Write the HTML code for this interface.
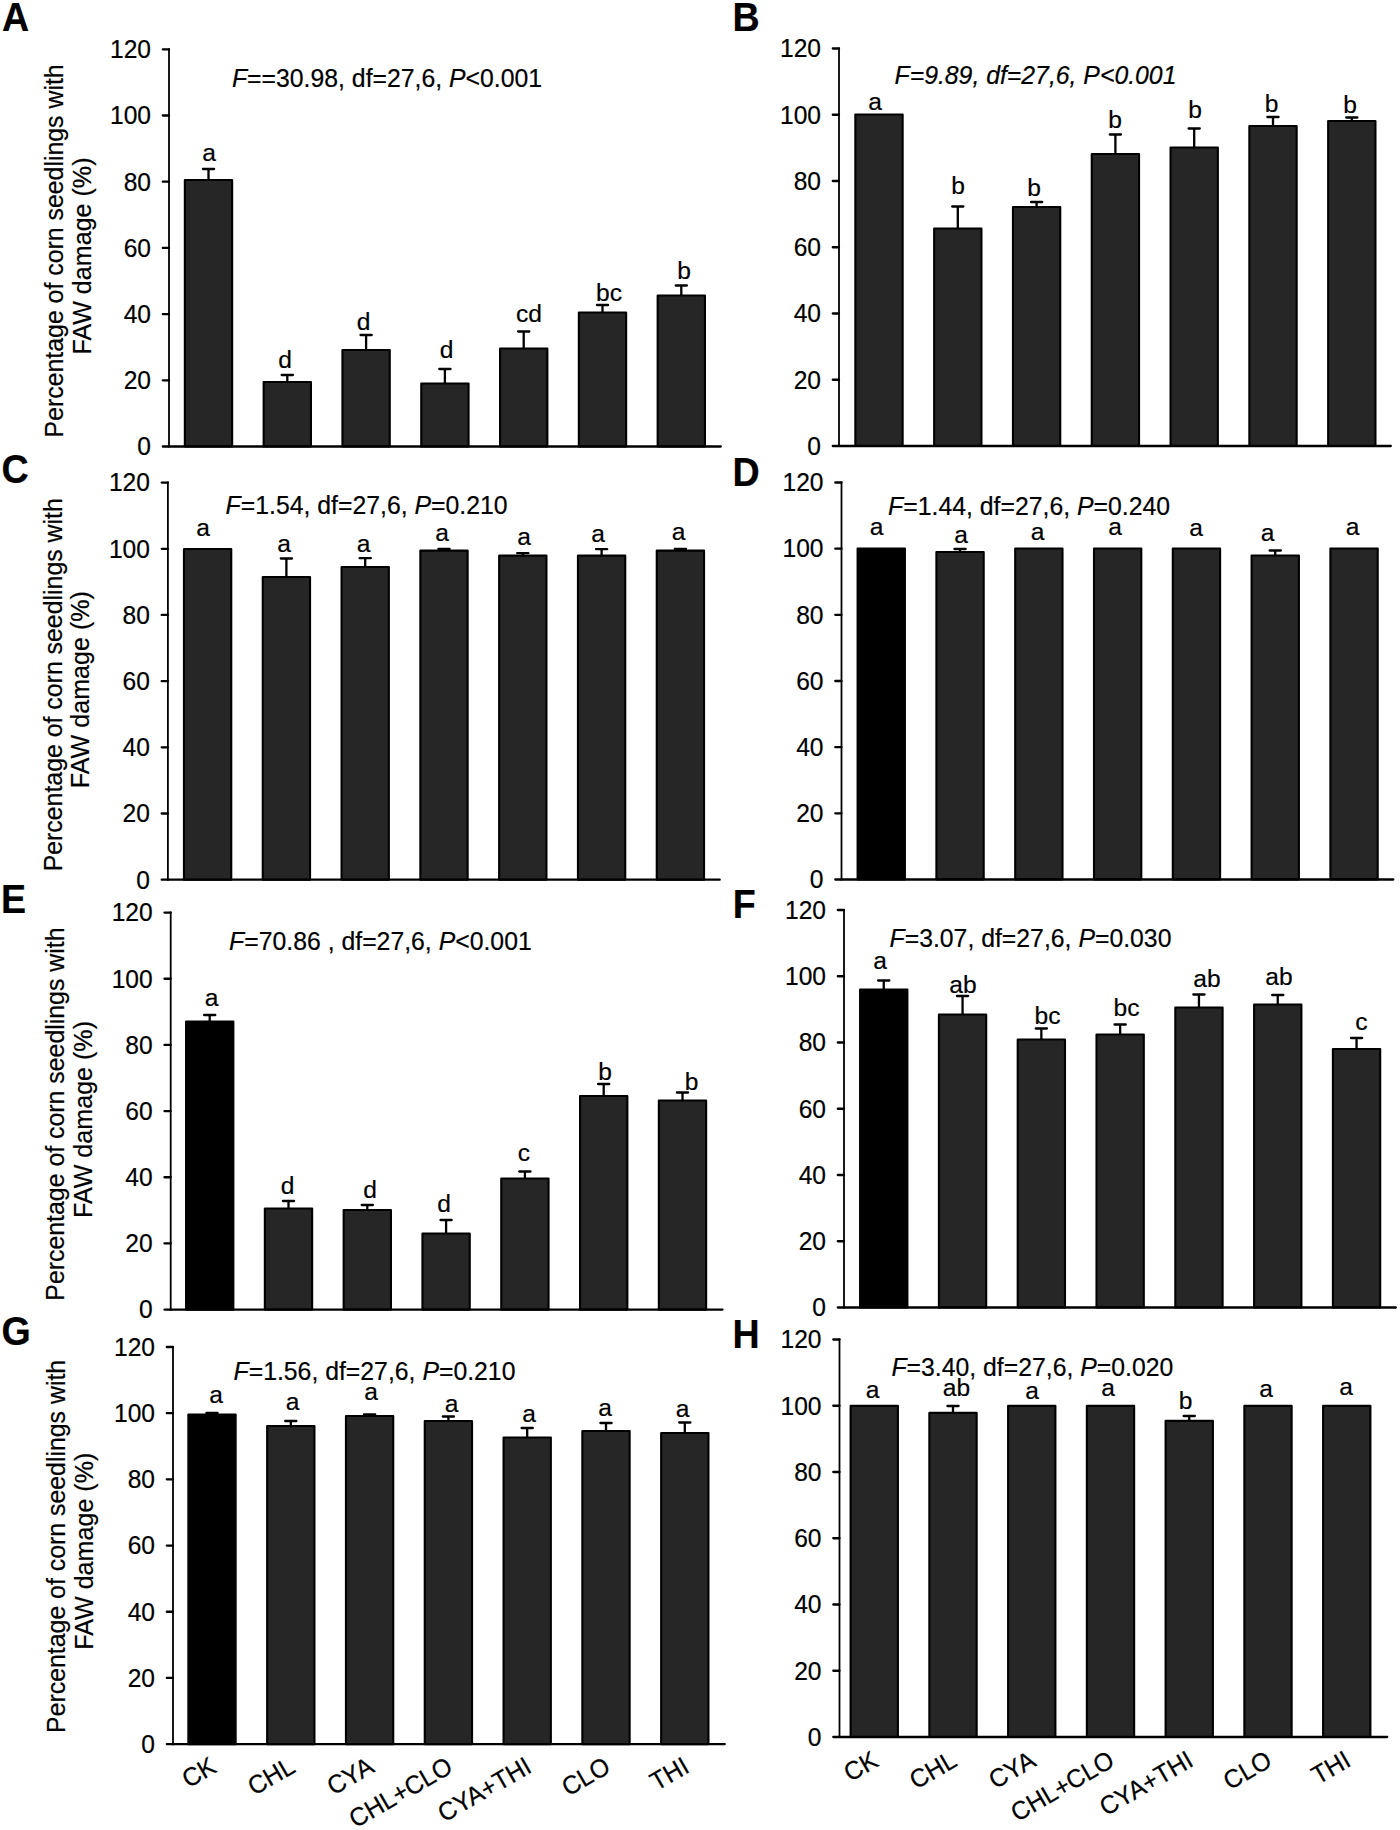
<!DOCTYPE html>
<html lang="en"><head><meta charset="utf-8"><title>Figure</title>
<style>html,body{margin:0;padding:0;background:#fff}svg{display:block}text{font-family:"Liberation Sans",Arial,Helvetica,sans-serif;fill:#000;stroke:#000;stroke-width:0.2px}.t{font-size:24.6px}.i{font-style:italic}.pl{font-size:37.6px;font-weight:bold;fill:#000;stroke:#000;stroke-width:0.2px}</style></head><body>
<svg width="1400" height="1830" viewBox="0 0 1400 1830">
<rect width="1400" height="1830" fill="#fff"/>
<g>
<text class="pl" transform="translate(2 30.7) scale(1 1.09)">A</text>
<path d="M208.5 180 V169 M202.9 169 H214.1" stroke="#000" stroke-width="2.3" stroke-linecap="round" fill="none"/>
<rect x="184.85" y="180" width="47.3" height="266.5" fill="#262626" stroke="#000" stroke-width="2.1" stroke-linejoin="round"/>
<path d="M287.3 382 V375 M281.7 375 H292.9" stroke="#000" stroke-width="2.3" stroke-linecap="round" fill="none"/>
<rect x="263.65" y="382" width="47.3" height="64.5" fill="#262626" stroke="#000" stroke-width="2.1" stroke-linejoin="round"/>
<path d="M366.1 350 V335 M360.5 335 H371.7" stroke="#000" stroke-width="2.3" stroke-linecap="round" fill="none"/>
<rect x="342.45" y="350" width="47.3" height="96.5" fill="#262626" stroke="#000" stroke-width="2.1" stroke-linejoin="round"/>
<path d="M444.9 383.5 V369 M439.3 369 H450.5" stroke="#000" stroke-width="2.3" stroke-linecap="round" fill="none"/>
<rect x="421.25" y="383.5" width="47.3" height="63" fill="#262626" stroke="#000" stroke-width="2.1" stroke-linejoin="round"/>
<path d="M523.7 348.5 V331.5 M518.1 331.5 H529.3" stroke="#000" stroke-width="2.3" stroke-linecap="round" fill="none"/>
<rect x="500.05" y="348.5" width="47.3" height="98" fill="#262626" stroke="#000" stroke-width="2.1" stroke-linejoin="round"/>
<path d="M602.5 312.5 V305 M596.9 305 H608.1" stroke="#000" stroke-width="2.3" stroke-linecap="round" fill="none"/>
<rect x="578.85" y="312.5" width="47.3" height="134" fill="#262626" stroke="#000" stroke-width="2.1" stroke-linejoin="round"/>
<path d="M681.3 295.5 V285.5 M675.7 285.5 H686.9" stroke="#000" stroke-width="2.3" stroke-linecap="round" fill="none"/>
<rect x="657.65" y="295.5" width="47.3" height="151" fill="#262626" stroke="#000" stroke-width="2.1" stroke-linejoin="round"/>
<path d="M169 48.2 V447.6" stroke="#000" stroke-width="1.8" fill="none"/>
<path d="M162.8 446.5 H720.8 M162.8 380.3 H169 M162.8 314.1 H169 M162.8 247.9 H169 M162.8 181.7 H169 M162.8 115.5 H169 M162.8 49.3 H169" stroke="#000" stroke-width="2.3" stroke-linecap="round" fill="none"/>
<text class="t" text-anchor="end" transform="translate(151 455.3) scale(1 1.045)">0</text>
<text class="t" text-anchor="end" transform="translate(151 389.1) scale(1 1.045)">20</text>
<text class="t" text-anchor="end" transform="translate(151 322.9) scale(1 1.045)">40</text>
<text class="t" text-anchor="end" transform="translate(151 256.7) scale(1 1.045)">60</text>
<text class="t" text-anchor="end" transform="translate(151 190.5) scale(1 1.045)">80</text>
<text class="t" text-anchor="end" transform="translate(151 124.3) scale(1 1.045)">100</text>
<text class="t" text-anchor="end" transform="translate(151 58.1) scale(1 1.045)">120</text>
<text class="t" text-anchor="middle" x="209" y="160.5">a</text>
<text class="t" text-anchor="middle" x="285" y="367.8">d</text>
<text class="t" text-anchor="middle" x="363.5" y="330">d</text>
<text class="t" text-anchor="middle" x="446.5" y="357.5">d</text>
<text class="t" text-anchor="middle" x="529" y="322">cd</text>
<text class="t" text-anchor="middle" x="609" y="301">bc</text>
<text class="t" text-anchor="middle" x="684" y="278.5">b</text>
<text class="t" style="font-size:24.8px" transform="translate(231.9 87) scale(1 1.045)"><tspan class="i">F</tspan>==30.98, df=27,6, <tspan class="i">P</tspan>&lt;0.001</text>
<text text-anchor="middle" font-size="24.86" transform="translate(63.05 250.9) rotate(-90)">Percentage of corn seedlings with</text>
<text text-anchor="middle" font-size="25.1" transform="translate(90.7 256) rotate(-90)">FAW damage (%)</text>
</g>
<g>
<text class="pl" transform="translate(732.6 30.7) scale(1 1.09)">B</text>
<rect x="855.35" y="114.5" width="47.3" height="331.5" fill="#262626" stroke="#000" stroke-width="2.1" stroke-linejoin="round"/>
<path d="M957.8 228.5 V206.5 M952.2 206.5 H963.4" stroke="#000" stroke-width="2.3" stroke-linecap="round" fill="none"/>
<rect x="934.15" y="228.5" width="47.3" height="217.5" fill="#262626" stroke="#000" stroke-width="2.1" stroke-linejoin="round"/>
<path d="M1036.6 207 V202 M1031 202 H1042.2" stroke="#000" stroke-width="2.3" stroke-linecap="round" fill="none"/>
<rect x="1012.95" y="207" width="47.3" height="239" fill="#262626" stroke="#000" stroke-width="2.1" stroke-linejoin="round"/>
<path d="M1115.4 154 V134.5 M1109.8 134.5 H1121" stroke="#000" stroke-width="2.3" stroke-linecap="round" fill="none"/>
<rect x="1091.75" y="154" width="47.3" height="292" fill="#262626" stroke="#000" stroke-width="2.1" stroke-linejoin="round"/>
<path d="M1194.2 147.5 V128.5 M1188.6 128.5 H1199.8" stroke="#000" stroke-width="2.3" stroke-linecap="round" fill="none"/>
<rect x="1170.55" y="147.5" width="47.3" height="298.5" fill="#262626" stroke="#000" stroke-width="2.1" stroke-linejoin="round"/>
<path d="M1273 126 V117 M1267.4 117 H1278.6" stroke="#000" stroke-width="2.3" stroke-linecap="round" fill="none"/>
<rect x="1249.35" y="126" width="47.3" height="320" fill="#262626" stroke="#000" stroke-width="2.1" stroke-linejoin="round"/>
<path d="M1351.8 121 V117.5 M1346.2 117.5 H1357.4" stroke="#000" stroke-width="2.3" stroke-linecap="round" fill="none"/>
<rect x="1328.15" y="121" width="47.3" height="325" fill="#262626" stroke="#000" stroke-width="2.1" stroke-linejoin="round"/>
<path d="M839 47.4 V447.1" stroke="#000" stroke-width="1.8" fill="none"/>
<path d="M832.8 446 H1390.8 M832.8 379.75 H839 M832.8 313.5 H839 M832.8 247.25 H839 M832.8 181 H839 M832.8 114.75 H839 M832.8 48.5 H839" stroke="#000" stroke-width="2.3" stroke-linecap="round" fill="none"/>
<text class="t" text-anchor="end" transform="translate(821 454.8) scale(1 1.045)">0</text>
<text class="t" text-anchor="end" transform="translate(821 388.55) scale(1 1.045)">20</text>
<text class="t" text-anchor="end" transform="translate(821 322.3) scale(1 1.045)">40</text>
<text class="t" text-anchor="end" transform="translate(821 256.05) scale(1 1.045)">60</text>
<text class="t" text-anchor="end" transform="translate(821 189.8) scale(1 1.045)">80</text>
<text class="t" text-anchor="end" transform="translate(821 123.55) scale(1 1.045)">100</text>
<text class="t" text-anchor="end" transform="translate(821 57.3) scale(1 1.045)">120</text>
<text class="t" text-anchor="middle" x="875" y="110">a</text>
<text class="t" text-anchor="middle" x="958" y="194">b</text>
<text class="t" text-anchor="middle" x="1034" y="195.5">b</text>
<text class="t" text-anchor="middle" x="1115" y="128">b</text>
<text class="t" text-anchor="middle" x="1195" y="118">b</text>
<text class="t" text-anchor="middle" x="1271.5" y="111.5">b</text>
<text class="t" text-anchor="middle" x="1350" y="112.5">b</text>
<text class="t" style="font-size:24.8px" transform="translate(894.5 83.5) scale(1 1.045)"><tspan class="i">F=9.89, df=27,6, P&lt;0.001</tspan></text>
</g>
<g>
<text class="pl" transform="translate(1.55 482.7) scale(1 1.09)">C</text>
<rect x="183.95" y="549" width="47.3" height="330.7" fill="#262626" stroke="#000" stroke-width="2.1" stroke-linejoin="round"/>
<path d="M286.4 577 V558.5 M280.8 558.5 H292" stroke="#000" stroke-width="2.3" stroke-linecap="round" fill="none"/>
<rect x="262.75" y="577" width="47.3" height="302.7" fill="#262626" stroke="#000" stroke-width="2.1" stroke-linejoin="round"/>
<path d="M365.2 567 V558.2 M359.6 558.2 H370.8" stroke="#000" stroke-width="2.3" stroke-linecap="round" fill="none"/>
<rect x="341.55" y="567" width="47.3" height="312.7" fill="#262626" stroke="#000" stroke-width="2.1" stroke-linejoin="round"/>
<path d="M444 550.6 V549 M438.4 549 H449.6" stroke="#000" stroke-width="2.3" stroke-linecap="round" fill="none"/>
<rect x="420.35" y="550.6" width="47.3" height="329.1" fill="#262626" stroke="#000" stroke-width="2.1" stroke-linejoin="round"/>
<path d="M522.8 555.6 V553.2 M517.2 553.2 H528.4" stroke="#000" stroke-width="2.3" stroke-linecap="round" fill="none"/>
<rect x="499.15" y="555.6" width="47.3" height="324.1" fill="#262626" stroke="#000" stroke-width="2.1" stroke-linejoin="round"/>
<path d="M601.6 555.6 V549.2 M596 549.2 H607.2" stroke="#000" stroke-width="2.3" stroke-linecap="round" fill="none"/>
<rect x="577.95" y="555.6" width="47.3" height="324.1" fill="#262626" stroke="#000" stroke-width="2.1" stroke-linejoin="round"/>
<path d="M680.4 550.6 V549 M674.8 549 H686" stroke="#000" stroke-width="2.3" stroke-linecap="round" fill="none"/>
<rect x="656.75" y="550.6" width="47.3" height="329.1" fill="#262626" stroke="#000" stroke-width="2.1" stroke-linejoin="round"/>
<path d="M167.9 481.5 V880.8" stroke="#000" stroke-width="1.8" fill="none"/>
<path d="M161.7 879.7 H719.7 M161.7 813.52 H167.9 M161.7 747.33 H167.9 M161.7 681.15 H167.9 M161.7 614.97 H167.9 M161.7 548.78 H167.9 M161.7 482.6 H167.9" stroke="#000" stroke-width="2.3" stroke-linecap="round" fill="none"/>
<text class="t" text-anchor="end" transform="translate(149.9 888.5) scale(1 1.045)">0</text>
<text class="t" text-anchor="end" transform="translate(149.9 822.32) scale(1 1.045)">20</text>
<text class="t" text-anchor="end" transform="translate(149.9 756.13) scale(1 1.045)">40</text>
<text class="t" text-anchor="end" transform="translate(149.9 689.95) scale(1 1.045)">60</text>
<text class="t" text-anchor="end" transform="translate(149.9 623.77) scale(1 1.045)">80</text>
<text class="t" text-anchor="end" transform="translate(149.9 557.58) scale(1 1.045)">100</text>
<text class="t" text-anchor="end" transform="translate(149.9 491.4) scale(1 1.045)">120</text>
<text class="t" text-anchor="middle" x="203" y="535.5">a</text>
<text class="t" text-anchor="middle" x="284" y="551.5">a</text>
<text class="t" text-anchor="middle" x="363.5" y="551.5">a</text>
<text class="t" text-anchor="middle" x="442" y="540.5">a</text>
<text class="t" text-anchor="middle" x="524" y="545">a</text>
<text class="t" text-anchor="middle" x="598" y="542">a</text>
<text class="t" text-anchor="middle" x="678.5" y="539.5">a</text>
<text class="t" style="font-size:24.8px" transform="translate(225.6 514) scale(1 1.045)"><tspan class="i">F</tspan>=1.54, df=27,6, <tspan class="i">P</tspan>=0.210</text>
<text text-anchor="middle" font-size="24.86" transform="translate(61.8 684.8) rotate(-90)">Percentage of corn seedlings with</text>
<text text-anchor="middle" font-size="25.1" transform="translate(89.45 689.6) rotate(-90)">FAW damage (%)</text>
</g>
<g>
<text class="pl" transform="translate(732.6 486) scale(1 1.09)">D</text>
<rect x="857.6" y="548.5" width="47.3" height="331" fill="#000000" stroke="#000" stroke-width="2.1" stroke-linejoin="round"/>
<path d="M960.05 552 V549 M954.45 549 H965.65" stroke="#000" stroke-width="2.3" stroke-linecap="round" fill="none"/>
<rect x="936.4" y="552" width="47.3" height="327.5" fill="#262626" stroke="#000" stroke-width="2.1" stroke-linejoin="round"/>
<rect x="1015.2" y="548.5" width="47.3" height="331" fill="#262626" stroke="#000" stroke-width="2.1" stroke-linejoin="round"/>
<rect x="1094" y="548.5" width="47.3" height="331" fill="#262626" stroke="#000" stroke-width="2.1" stroke-linejoin="round"/>
<rect x="1172.8" y="548.5" width="47.3" height="331" fill="#262626" stroke="#000" stroke-width="2.1" stroke-linejoin="round"/>
<path d="M1275.25 555.5 V550.5 M1269.65 550.5 H1280.85" stroke="#000" stroke-width="2.3" stroke-linecap="round" fill="none"/>
<rect x="1251.6" y="555.5" width="47.3" height="324" fill="#262626" stroke="#000" stroke-width="2.1" stroke-linejoin="round"/>
<rect x="1330.4" y="548.5" width="47.3" height="331" fill="#262626" stroke="#000" stroke-width="2.1" stroke-linejoin="round"/>
<path d="M841.5 481.4 V880.6" stroke="#000" stroke-width="1.8" fill="none"/>
<path d="M835.3 879.5 H1393.3 M835.3 813.33 H841.5 M835.3 747.17 H841.5 M835.3 681 H841.5 M835.3 614.83 H841.5 M835.3 548.67 H841.5 M835.3 482.5 H841.5" stroke="#000" stroke-width="2.3" stroke-linecap="round" fill="none"/>
<text class="t" text-anchor="end" transform="translate(823.5 888.3) scale(1 1.045)">0</text>
<text class="t" text-anchor="end" transform="translate(823.5 822.13) scale(1 1.045)">20</text>
<text class="t" text-anchor="end" transform="translate(823.5 755.97) scale(1 1.045)">40</text>
<text class="t" text-anchor="end" transform="translate(823.5 689.8) scale(1 1.045)">60</text>
<text class="t" text-anchor="end" transform="translate(823.5 623.63) scale(1 1.045)">80</text>
<text class="t" text-anchor="end" transform="translate(823.5 557.47) scale(1 1.045)">100</text>
<text class="t" text-anchor="end" transform="translate(823.5 491.3) scale(1 1.045)">120</text>
<text class="t" text-anchor="middle" x="876.5" y="535">a</text>
<text class="t" text-anchor="middle" x="961" y="542.5">a</text>
<text class="t" text-anchor="middle" x="1037.5" y="540">a</text>
<text class="t" text-anchor="middle" x="1115" y="535">a</text>
<text class="t" text-anchor="middle" x="1196" y="536">a</text>
<text class="t" text-anchor="middle" x="1267.5" y="541">a</text>
<text class="t" text-anchor="middle" x="1352.5" y="535">a</text>
<text class="t" style="font-size:24.8px" transform="translate(888.1 515) scale(1 1.045)"><tspan class="i">F</tspan>=1.44, df=27,6, <tspan class="i">P</tspan>=0.240</text>
</g>
<g>
<text class="pl" transform="translate(0.9 912.7) scale(1 1.09)">E</text>
<path d="M209.7 1021.5 V1015 M204.1 1015 H215.3" stroke="#000" stroke-width="2.3" stroke-linecap="round" fill="none"/>
<rect x="186.05" y="1021.5" width="47.3" height="288.1" fill="#000000" stroke="#000" stroke-width="2.1" stroke-linejoin="round"/>
<path d="M288.5 1208.5 V1201 M282.9 1201 H294.1" stroke="#000" stroke-width="2.3" stroke-linecap="round" fill="none"/>
<rect x="264.85" y="1208.5" width="47.3" height="101.1" fill="#262626" stroke="#000" stroke-width="2.1" stroke-linejoin="round"/>
<path d="M367.3 1210 V1205 M361.7 1205 H372.9" stroke="#000" stroke-width="2.3" stroke-linecap="round" fill="none"/>
<rect x="343.65" y="1210" width="47.3" height="99.6" fill="#262626" stroke="#000" stroke-width="2.1" stroke-linejoin="round"/>
<path d="M446.1 1233.5 V1220 M440.5 1220 H451.7" stroke="#000" stroke-width="2.3" stroke-linecap="round" fill="none"/>
<rect x="422.45" y="1233.5" width="47.3" height="76.1" fill="#262626" stroke="#000" stroke-width="2.1" stroke-linejoin="round"/>
<path d="M524.9 1178.5 V1171.5 M519.3 1171.5 H530.5" stroke="#000" stroke-width="2.3" stroke-linecap="round" fill="none"/>
<rect x="501.25" y="1178.5" width="47.3" height="131.1" fill="#262626" stroke="#000" stroke-width="2.1" stroke-linejoin="round"/>
<path d="M603.7 1096 V1084 M598.1 1084 H609.3" stroke="#000" stroke-width="2.3" stroke-linecap="round" fill="none"/>
<rect x="580.05" y="1096" width="47.3" height="213.6" fill="#262626" stroke="#000" stroke-width="2.1" stroke-linejoin="round"/>
<path d="M682.5 1100.5 V1092.5 M676.9 1092.5 H688.1" stroke="#000" stroke-width="2.3" stroke-linecap="round" fill="none"/>
<rect x="658.85" y="1100.5" width="47.3" height="209.1" fill="#262626" stroke="#000" stroke-width="2.1" stroke-linejoin="round"/>
<path d="M170.7 911.5 V1310.7" stroke="#000" stroke-width="1.8" fill="none"/>
<path d="M164.5 1309.6 H722.5 M164.5 1243.43 H170.7 M164.5 1177.27 H170.7 M164.5 1111.1 H170.7 M164.5 1044.93 H170.7 M164.5 978.77 H170.7 M164.5 912.6 H170.7" stroke="#000" stroke-width="2.3" stroke-linecap="round" fill="none"/>
<text class="t" text-anchor="end" transform="translate(152.7 1318.4) scale(1 1.045)">0</text>
<text class="t" text-anchor="end" transform="translate(152.7 1252.23) scale(1 1.045)">20</text>
<text class="t" text-anchor="end" transform="translate(152.7 1186.07) scale(1 1.045)">40</text>
<text class="t" text-anchor="end" transform="translate(152.7 1119.9) scale(1 1.045)">60</text>
<text class="t" text-anchor="end" transform="translate(152.7 1053.73) scale(1 1.045)">80</text>
<text class="t" text-anchor="end" transform="translate(152.7 987.57) scale(1 1.045)">100</text>
<text class="t" text-anchor="end" transform="translate(152.7 921.4) scale(1 1.045)">120</text>
<text class="t" text-anchor="middle" x="211.5" y="1006">a</text>
<text class="t" text-anchor="middle" x="287.5" y="1193.5">d</text>
<text class="t" text-anchor="middle" x="370" y="1198">d</text>
<text class="t" text-anchor="middle" x="444" y="1212">d</text>
<text class="t" text-anchor="middle" x="524" y="1161">c</text>
<text class="t" text-anchor="middle" x="605" y="1080">b</text>
<text class="t" text-anchor="middle" x="691.5" y="1090">b</text>
<text class="t" style="font-size:24.8px" transform="translate(229.1 949.5) scale(1 1.045)"><tspan class="i">F</tspan>=70.86 , df=27,6, <tspan class="i">P</tspan>&lt;0.001</text>
<text text-anchor="middle" font-size="24.86" transform="translate(64.2 1114.1) rotate(-90)">Percentage of corn seedlings with</text>
<text text-anchor="middle" font-size="25.1" transform="translate(91.85 1119.5) rotate(-90)">FAW damage (%)</text>
</g>
<g>
<text class="pl" transform="translate(732.8 918.3) scale(1 1.09)">F</text>
<path d="M883.75 989.5 V980.5 M878.15 980.5 H889.35" stroke="#000" stroke-width="2.3" stroke-linecap="round" fill="none"/>
<rect x="860.1" y="989.5" width="47.3" height="318" fill="#000000" stroke="#000" stroke-width="2.1" stroke-linejoin="round"/>
<path d="M962.55 1014.5 V996 M956.95 996 H968.15" stroke="#000" stroke-width="2.3" stroke-linecap="round" fill="none"/>
<rect x="938.9" y="1014.5" width="47.3" height="293" fill="#262626" stroke="#000" stroke-width="2.1" stroke-linejoin="round"/>
<path d="M1041.35 1039.5 V1028.5 M1035.75 1028.5 H1046.95" stroke="#000" stroke-width="2.3" stroke-linecap="round" fill="none"/>
<rect x="1017.7" y="1039.5" width="47.3" height="268" fill="#262626" stroke="#000" stroke-width="2.1" stroke-linejoin="round"/>
<path d="M1120.15 1034.5 V1024.5 M1114.55 1024.5 H1125.75" stroke="#000" stroke-width="2.3" stroke-linecap="round" fill="none"/>
<rect x="1096.5" y="1034.5" width="47.3" height="273" fill="#262626" stroke="#000" stroke-width="2.1" stroke-linejoin="round"/>
<path d="M1198.95 1007.5 V994.5 M1193.35 994.5 H1204.55" stroke="#000" stroke-width="2.3" stroke-linecap="round" fill="none"/>
<rect x="1175.3" y="1007.5" width="47.3" height="300" fill="#262626" stroke="#000" stroke-width="2.1" stroke-linejoin="round"/>
<path d="M1277.75 1004.5 V995 M1272.15 995 H1283.35" stroke="#000" stroke-width="2.3" stroke-linecap="round" fill="none"/>
<rect x="1254.1" y="1004.5" width="47.3" height="303" fill="#262626" stroke="#000" stroke-width="2.1" stroke-linejoin="round"/>
<path d="M1356.55 1049 V1038 M1350.95 1038 H1362.15" stroke="#000" stroke-width="2.3" stroke-linecap="round" fill="none"/>
<rect x="1332.9" y="1049" width="47.3" height="258.5" fill="#262626" stroke="#000" stroke-width="2.1" stroke-linejoin="round"/>
<path d="M844 908.9 V1308.6" stroke="#000" stroke-width="1.8" fill="none"/>
<path d="M837.8 1307.5 H1395.8 M837.8 1241.25 H844 M837.8 1175 H844 M837.8 1108.75 H844 M837.8 1042.5 H844 M837.8 976.25 H844 M837.8 910 H844" stroke="#000" stroke-width="2.3" stroke-linecap="round" fill="none"/>
<text class="t" text-anchor="end" transform="translate(826 1316.3) scale(1 1.045)">0</text>
<text class="t" text-anchor="end" transform="translate(826 1250.05) scale(1 1.045)">20</text>
<text class="t" text-anchor="end" transform="translate(826 1183.8) scale(1 1.045)">40</text>
<text class="t" text-anchor="end" transform="translate(826 1117.55) scale(1 1.045)">60</text>
<text class="t" text-anchor="end" transform="translate(826 1051.3) scale(1 1.045)">80</text>
<text class="t" text-anchor="end" transform="translate(826 985.05) scale(1 1.045)">100</text>
<text class="t" text-anchor="end" transform="translate(826 918.8) scale(1 1.045)">120</text>
<text class="t" text-anchor="middle" x="880" y="969">a</text>
<text class="t" text-anchor="middle" x="963" y="992.5">ab</text>
<text class="t" text-anchor="middle" x="1047.5" y="1024">bc</text>
<text class="t" text-anchor="middle" x="1126.5" y="1016">bc</text>
<text class="t" text-anchor="middle" x="1207" y="986.5">ab</text>
<text class="t" text-anchor="middle" x="1279" y="984.5">ab</text>
<text class="t" text-anchor="middle" x="1361.5" y="1030">c</text>
<text class="t" style="font-size:24.8px" transform="translate(889.5 947) scale(1 1.045)"><tspan class="i">F</tspan>=3.07, df=27,6, <tspan class="i">P</tspan>=0.030</text>
</g>
<g>
<text class="pl" transform="translate(1.55 1344.6) scale(1 1.09)">G</text>
<path d="M212 1414.5 V1413 M206.4 1413 H217.6" stroke="#000" stroke-width="2.3" stroke-linecap="round" fill="none"/>
<rect x="188.35" y="1414.5" width="47.3" height="329.6" fill="#000000" stroke="#000" stroke-width="2.1" stroke-linejoin="round"/>
<path d="M290.8 1426 V1421 M285.2 1421 H296.4" stroke="#000" stroke-width="2.3" stroke-linecap="round" fill="none"/>
<rect x="267.15" y="1426" width="47.3" height="318.1" fill="#262626" stroke="#000" stroke-width="2.1" stroke-linejoin="round"/>
<path d="M369.6 1416 V1414.5 M364 1414.5 H375.2" stroke="#000" stroke-width="2.3" stroke-linecap="round" fill="none"/>
<rect x="345.95" y="1416" width="47.3" height="328.1" fill="#262626" stroke="#000" stroke-width="2.1" stroke-linejoin="round"/>
<path d="M448.4 1421 V1416.5 M442.8 1416.5 H454" stroke="#000" stroke-width="2.3" stroke-linecap="round" fill="none"/>
<rect x="424.75" y="1421" width="47.3" height="323.1" fill="#262626" stroke="#000" stroke-width="2.1" stroke-linejoin="round"/>
<path d="M527.2 1437.5 V1428 M521.6 1428 H532.8" stroke="#000" stroke-width="2.3" stroke-linecap="round" fill="none"/>
<rect x="503.55" y="1437.5" width="47.3" height="306.6" fill="#262626" stroke="#000" stroke-width="2.1" stroke-linejoin="round"/>
<path d="M606 1431 V1423 M600.4 1423 H611.6" stroke="#000" stroke-width="2.3" stroke-linecap="round" fill="none"/>
<rect x="582.35" y="1431" width="47.3" height="313.1" fill="#262626" stroke="#000" stroke-width="2.1" stroke-linejoin="round"/>
<path d="M684.8 1433 V1422.5 M679.2 1422.5 H690.4" stroke="#000" stroke-width="2.3" stroke-linecap="round" fill="none"/>
<rect x="661.15" y="1433" width="47.3" height="311.1" fill="#262626" stroke="#000" stroke-width="2.1" stroke-linejoin="round"/>
<path d="M173 1345.9 V1745.2" stroke="#000" stroke-width="1.8" fill="none"/>
<path d="M166.8 1744.1 H724.8 M166.8 1677.92 H173 M166.8 1611.73 H173 M166.8 1545.55 H173 M166.8 1479.37 H173 M166.8 1413.18 H173 M166.8 1347 H173" stroke="#000" stroke-width="2.3" stroke-linecap="round" fill="none"/>
<text class="t" text-anchor="end" transform="translate(155 1752.9) scale(1 1.045)">0</text>
<text class="t" text-anchor="end" transform="translate(155 1686.72) scale(1 1.045)">20</text>
<text class="t" text-anchor="end" transform="translate(155 1620.53) scale(1 1.045)">40</text>
<text class="t" text-anchor="end" transform="translate(155 1554.35) scale(1 1.045)">60</text>
<text class="t" text-anchor="end" transform="translate(155 1488.17) scale(1 1.045)">80</text>
<text class="t" text-anchor="end" transform="translate(155 1421.98) scale(1 1.045)">100</text>
<text class="t" text-anchor="end" transform="translate(155 1355.8) scale(1 1.045)">120</text>
<text class="t" text-anchor="middle" x="216" y="1403">a</text>
<text class="t" text-anchor="middle" x="292.5" y="1409.5">a</text>
<text class="t" text-anchor="middle" x="371" y="1399.5">a</text>
<text class="t" text-anchor="middle" x="451.5" y="1411.5">a</text>
<text class="t" text-anchor="middle" x="529" y="1421.5">a</text>
<text class="t" text-anchor="middle" x="605" y="1415.5">a</text>
<text class="t" text-anchor="middle" x="682.5" y="1417">a</text>
<text class="t" style="font-size:24.8px" transform="translate(233.5 1379.5) scale(1 1.045)"><tspan class="i">F</tspan>=1.56, df=27,6, <tspan class="i">P</tspan>=0.210</text>
<text text-anchor="middle" font-size="24.86" transform="translate(65.15 1546.4) rotate(-90)">Percentage of corn seedlings with</text>
<text text-anchor="middle" font-size="25.1" transform="translate(92.8 1551.2) rotate(-90)">FAW damage (%)</text>
<text class="t" text-anchor="end" transform="translate(218 1771.4) rotate(-30) scale(1 1.045)">CK</text>
<text class="t" text-anchor="end" transform="translate(296.8 1771.4) rotate(-30) scale(1 1.045)">CHL</text>
<text class="t" text-anchor="end" transform="translate(375.6 1771.4) rotate(-30) scale(1 1.045)">CYA</text>
<text class="t" text-anchor="end" transform="translate(454.4 1771.4) rotate(-30) scale(1 1.045)">CHL+CLO</text>
<text class="t" text-anchor="end" transform="translate(533.2 1771.4) rotate(-30) scale(1 1.045)">CYA+THI</text>
<text class="t" text-anchor="end" transform="translate(612 1771.4) rotate(-30) scale(1 1.045)">CLO</text>
<text class="t" text-anchor="end" transform="translate(690.8 1771.4) rotate(-30) scale(1 1.045)">THI</text>
</g>
<g>
<text class="pl" transform="translate(732.5 1347.5) scale(1 1.09)">H</text>
<rect x="850.6" y="1405.9" width="47.3" height="331.1" fill="#262626" stroke="#000" stroke-width="2.1" stroke-linejoin="round"/>
<path d="M953 1412.9 V1406 M947.4 1406 H958.6" stroke="#000" stroke-width="2.3" stroke-linecap="round" fill="none"/>
<rect x="929.35" y="1412.9" width="47.3" height="324.1" fill="#262626" stroke="#000" stroke-width="2.1" stroke-linejoin="round"/>
<rect x="1008.1" y="1405.9" width="47.3" height="331.1" fill="#262626" stroke="#000" stroke-width="2.1" stroke-linejoin="round"/>
<rect x="1086.85" y="1405.9" width="47.3" height="331.1" fill="#262626" stroke="#000" stroke-width="2.1" stroke-linejoin="round"/>
<path d="M1189.25 1420.9 V1416 M1183.65 1416 H1194.85" stroke="#000" stroke-width="2.3" stroke-linecap="round" fill="none"/>
<rect x="1165.6" y="1420.9" width="47.3" height="316.1" fill="#262626" stroke="#000" stroke-width="2.1" stroke-linejoin="round"/>
<rect x="1244.35" y="1405.9" width="47.3" height="331.1" fill="#262626" stroke="#000" stroke-width="2.1" stroke-linejoin="round"/>
<rect x="1323.1" y="1405.9" width="47.3" height="331.1" fill="#262626" stroke="#000" stroke-width="2.1" stroke-linejoin="round"/>
<path d="M839.5 1338.4 V1738.1" stroke="#000" stroke-width="1.8" fill="none"/>
<path d="M833.3 1737 H1387.2 M833.3 1670.75 H839.5 M833.3 1604.5 H839.5 M833.3 1538.25 H839.5 M833.3 1472 H839.5 M833.3 1405.75 H839.5 M833.3 1339.5 H839.5" stroke="#000" stroke-width="2.3" stroke-linecap="round" fill="none"/>
<text class="t" text-anchor="end" transform="translate(821.5 1745.8) scale(1 1.045)">0</text>
<text class="t" text-anchor="end" transform="translate(821.5 1679.55) scale(1 1.045)">20</text>
<text class="t" text-anchor="end" transform="translate(821.5 1613.3) scale(1 1.045)">40</text>
<text class="t" text-anchor="end" transform="translate(821.5 1547.05) scale(1 1.045)">60</text>
<text class="t" text-anchor="end" transform="translate(821.5 1480.8) scale(1 1.045)">80</text>
<text class="t" text-anchor="end" transform="translate(821.5 1414.55) scale(1 1.045)">100</text>
<text class="t" text-anchor="end" transform="translate(821.5 1348.3) scale(1 1.045)">120</text>
<text class="t" text-anchor="middle" x="872.5" y="1398">a</text>
<text class="t" text-anchor="middle" x="956.5" y="1396">ab</text>
<text class="t" text-anchor="middle" x="1032" y="1399">a</text>
<text class="t" text-anchor="middle" x="1108" y="1396">a</text>
<text class="t" text-anchor="middle" x="1185.5" y="1408.5">b</text>
<text class="t" text-anchor="middle" x="1266" y="1397">a</text>
<text class="t" text-anchor="middle" x="1346" y="1394.5">a</text>
<text class="t" style="font-size:24.8px" transform="translate(891.4 1376) scale(1 1.045)"><tspan class="i">F</tspan>=3.40, df=27,6, <tspan class="i">P</tspan>=0.020</text>
<text class="t" text-anchor="end" transform="translate(879.85 1765.2) rotate(-30) scale(1 1.045)">CK</text>
<text class="t" text-anchor="end" transform="translate(958.6 1765.2) rotate(-30) scale(1 1.045)">CHL</text>
<text class="t" text-anchor="end" transform="translate(1037.35 1765.2) rotate(-30) scale(1 1.045)">CYA</text>
<text class="t" text-anchor="end" transform="translate(1116.1 1765.2) rotate(-30) scale(1 1.045)">CHL+CLO</text>
<text class="t" text-anchor="end" transform="translate(1194.85 1765.2) rotate(-30) scale(1 1.045)">CYA+THI</text>
<text class="t" text-anchor="end" transform="translate(1273.6 1765.2) rotate(-30) scale(1 1.045)">CLO</text>
<text class="t" text-anchor="end" transform="translate(1352.35 1765.2) rotate(-30) scale(1 1.045)">THI</text>
</g>
</svg></body></html>
